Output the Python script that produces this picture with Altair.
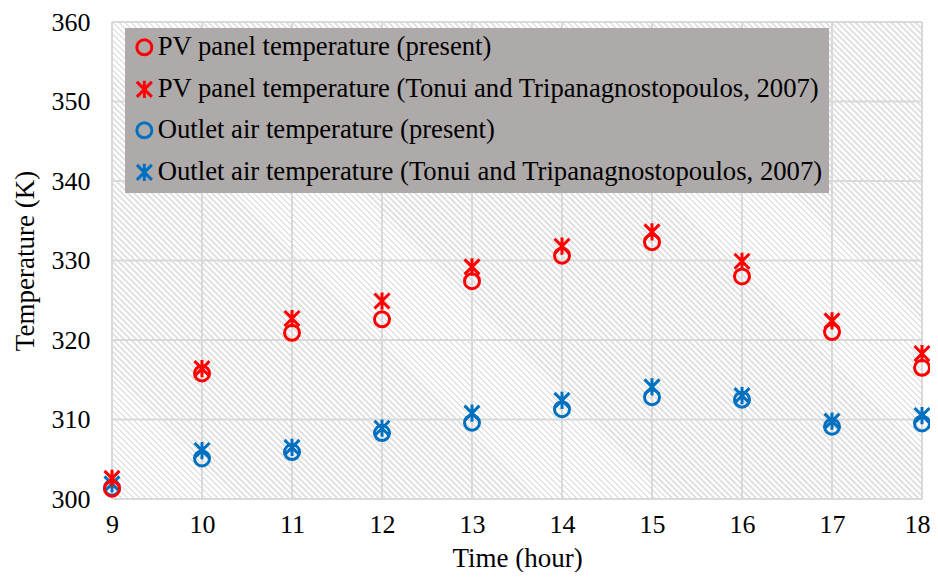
import altair as alt
import pandas as pd

hours = [9, 10, 11, 12, 13, 14, 15, 16, 17, 18]
pv_present = [301.3, 315.8, 320.9, 322.6, 327.4, 330.6, 332.3, 328.0, 321.0, 316.5]
pv_tonui = [302.6, 316.4, 322.7, 324.9, 329.2, 331.8, 333.6, 329.9, 322.4, 318.3]
air_present = [301.4, 305.1, 305.9, 308.3, 309.6, 311.3, 312.8, 312.5, 309.1, 309.5]
air_tonui = [301.9, 306.1, 306.5, 308.9, 310.8, 312.4, 314.1, 313.0, 309.8, 310.5]

series_names = [
    "PV panel temperature (present)",
    "PV panel temperature (Tonui and Tripanagnostopoulos, 2007)",
    "Outlet air temperature (present)",
    "Outlet air temperature (Tonui and Tripanagnostopoulos, 2007)",
]
series_colors = ["#FF0000", "#FF0000", "#0070C0", "#0070C0"]
STAR = "M-1,-1L1,1M-1,1L1,-1M0,-1.15L0,1.15"
series_shapes = ["circle", STAR, "circle", STAR]

y_ticks = [300, 310, 320, 330, 340, 350, 360]
x_domain = [9, 18]
y_domain = [300, 360]

rows = []
for name, vals in zip(series_names, [pv_present, pv_tonui, air_present, air_tonui]):
    for h, v in zip(hours, vals):
        rows.append({"hour": h, "temp": v, "series": name})
df = pd.DataFrame(rows)

W, H = 810, 477
FONT = "Times New Roman, Liberation Serif, DejaVu Serif, serif"

# diagonal hatch background via a striped linear gradient
n = 215
stops = []
for i in range(n):
    a, m, b = i / n, (i + 0.55) / n, (i + 1) / n
    stops += [
        alt.GradientStop(offset=a, color="#ffffff"),
        alt.GradientStop(offset=m, color="#ffffff"),
        alt.GradientStop(offset=m, color="#e3e3e3"),
        alt.GradientStop(offset=b, color="#e3e3e3"),
    ]
k = (W * W + H * H) / (W + H)
grad = alt.Gradient(gradient="linear", stops=stops, x1=0, y1=1, x2=W / k, y2=1 - H / k)

xscale = alt.Scale(domain=x_domain, nice=False, zero=False)
yscale = alt.Scale(domain=y_domain, nice=False, zero=False)

bg = alt.Chart(pd.DataFrame({"d": [0]})).mark_rect(fill=grad, strokeWidth=0).encode(
    x=alt.X(datum=x_domain[0], scale=xscale),
    x2=alt.X2(datum=x_domain[1]),
    y=alt.Y(datum=y_domain[0], scale=yscale),
    y2=alt.Y2(datum=y_domain[1]),
)

vgrid = alt.Chart(pd.DataFrame({"hour": hours})).mark_rule(color="#d9d9d9", strokeWidth=2).encode(
    x=alt.X("hour:Q", scale=xscale),
)
hgrid = alt.Chart(pd.DataFrame({"temp": y_ticks})).mark_rule(color="#d9d9d9", strokeWidth=2).encode(
    y=alt.Y("temp:Q", scale=yscale),
)

last_hour = hours[-1]
points = alt.Chart(df).mark_point(filled=False, strokeWidth=3, size=225, opacity=1).encode(
    x=alt.X("hour:Q", scale=xscale,
            axis=alt.Axis(values=hours, format="d", title="Time (hour)",
                          labelAlign=alt.ExprRef(expr=f"datum.value == {last_hour} ? 'right' : 'center'"),
                          labelOffset=alt.ExprRef(expr=f"datum.value == {last_hour} ? 8 : 0"))),
    y=alt.Y("temp:Q", scale=yscale,
            axis=alt.Axis(values=y_ticks, format="d", title="Temperature (K)")),
    color=alt.Color("series:N",
                    scale=alt.Scale(domain=series_names, range=series_colors),
                    legend=alt.Legend(orient="none", legendX=13, legendY=6, title=None,
                                      fillColor="#AEAAAA", padding=6, rowPadding=12,
                                      labelFont=FONT, labelFontSize=26.7, labelColor="#000000",
                                      labelLimit=0, labelOffset=0, symbolStrokeWidth=3,
                                      symbolSize=225, offset=0)),
    shape=alt.Shape("series:N",
                    scale=alt.Scale(domain=series_names, range=series_shapes),
                    legend=None),
    order=alt.Order("series:N"),
)

chart = alt.layer(bg, vgrid, hgrid, points).properties(
    width=W, height=H,
    autosize=alt.AutoSizeParams(type="none"),
    padding={"left": 104, "top": 14, "right": 8, "bottom": 73},
).configure_view(
    stroke=None
).configure_axis(
    grid=False, ticks=False, domain=False,
    labelFont=FONT, labelFontSize=26, labelColor="#000000",
    titleFont=FONT, titleFontSize=27, titleFontWeight="normal", titleColor="#000000",
).configure_axisX(labelPadding=12, titlePadding=8).configure_axisY(labelPadding=22, titlePadding=12)

chart.save("out.html", embed_options={"renderer": "svg", "actions": False})
